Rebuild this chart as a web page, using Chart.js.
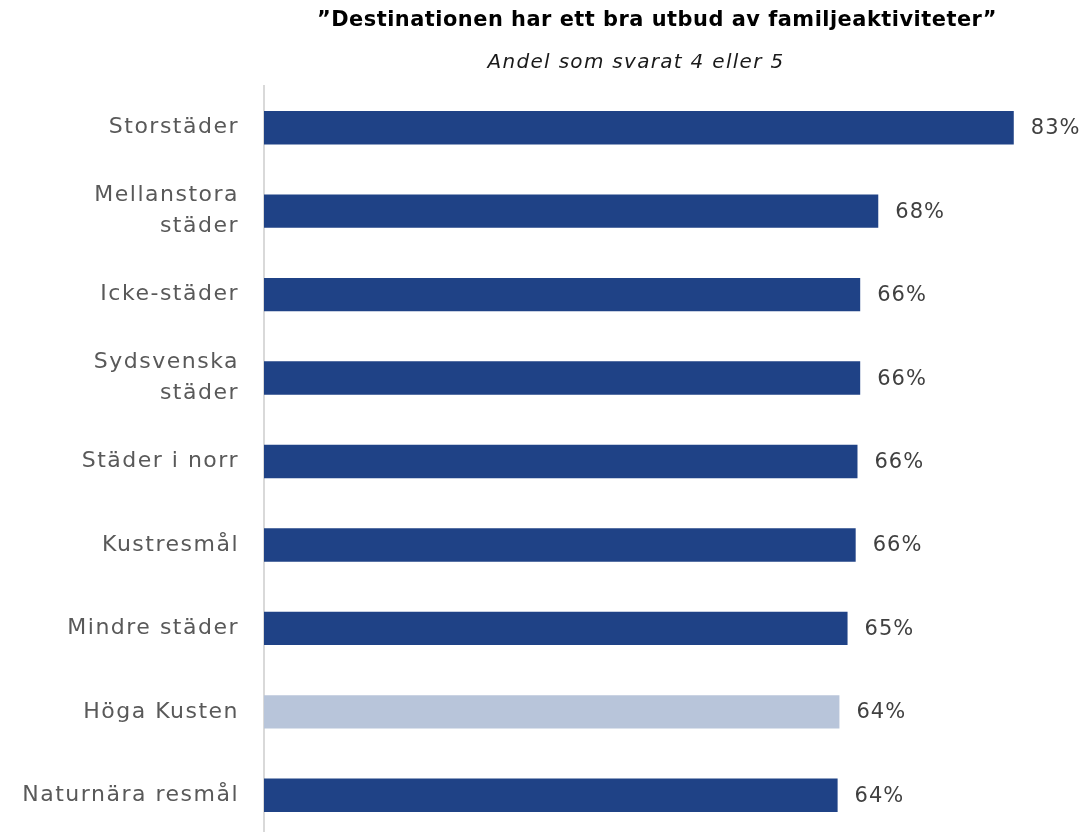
<!DOCTYPE html>
<html>
<head>
<meta charset="utf-8">
<script src="https://cdn.jsdelivr.net/npm/chart.js@4"></script>
<style>
html,body{margin:0;padding:0;background:#fff;overflow:hidden;}
canvas{display:block;}
</style>
</head>
<body>
<canvas id="c" width="1084" height="837"></canvas>
<script>
const categories = [
  "Storstäder",
  ["Mellanstora", "städer"],
  "Icke-städer",
  ["Sydsvenska", "städer"],
  "Städer i norr",
  "Kustresmål",
  "Mindre städer",
  "Höga Kusten",
  "Naturnära resmål"
];
const values = [83.0, 68.0, 66.0, 66.0, 65.7, 65.5, 64.6, 63.7, 63.5];
const highlight = [false, false, false, false, false, false, false, true, false];
const titleText = "\u201DDestinationen har ett bra utbud av familjeaktiviteter\u201D";
const subtitleText = "Andel som svarat 4 eller 5";

const FONT = "'DejaVu Sans', sans-serif";

const spacingPlugin = {
  id: 'spacing',
  beforeUpdate(chart) { chart.ctx.letterSpacing = '1.5px'; },
  beforeDraw(chart) { chart.ctx.letterSpacing = '1.5px'; }
};

const headerPlugin = {
  id: 'header',
  afterDraw(chart) {
    const ctx = chart.ctx;
    ctx.save();
    ctx.fillStyle = '#000000';
    ctx.textAlign = 'center';
    ctx.textBaseline = 'middle';
    ctx.letterSpacing = '0.5px';
    ctx.font = "bold 21px " + FONT;
    ctx.fillText(titleText, 657, 21, 680);
    ctx.fillStyle = '#1a1a1a';
    ctx.letterSpacing = '1.3px';
    ctx.font = "italic 20px " + FONT;
    ctx.fillText(subtitleText, 636, 63, 298);
    ctx.restore();
  }
};

const valueLabelPlugin = {
  id: 'valueLabels',
  afterDatasetsDraw(chart) {
    const ctx = chart.ctx;
    const meta = chart.getDatasetMeta(0);
    ctx.save();
    ctx.fillStyle = '#404040';
    ctx.letterSpacing = '1px';
    ctx.font = "21px " + FONT;
    ctx.textAlign = 'left';
    ctx.textBaseline = 'middle';
    meta.data.forEach((bar, i) => {
      ctx.fillText(Math.round(values[i]) + '%', bar.x + 17, bar.y + 1);
    });
    ctx.restore();
  }
};

new Chart(document.getElementById('c'), {
  type: 'bar',
  data: {
    labels: categories,
    datasets: [{
      data: values,
      backgroundColor: highlight.map(h => h ? '#B8C5DA' : '#1F4286'),
      borderWidth: 0,
      barPercentage: 0.4,
      categoryPercentage: 1.0
    }]
  },
  options: {
    indexAxis: 'y',
    responsive: false,
    animation: false,
    devicePixelRatio: 1,
    layout: { padding: { top: 86, right: 7, bottom: 0, left: 0 } },
    plugins: {
      legend: { display: false },
      title: { display: false },
      tooltip: { enabled: false }
    },
    scales: {
      x: {
        display: false,
        min: 0,
        max: 90
      },
      y: {
        afterFit(scale) {
          scale.width = 264;
          scale.paddingTop = 0;
          scale.paddingBottom = 0;
        },
        grid: { display: false, drawTicks: false },
        border: { display: true, color: '#D9D9D9', width: 2 },
        ticks: {
          padding: 25,
          color: '#595959',
          font: { family: FONT, size: 22, lineHeight: 1.4 }
        }
      }
    }
  },
  plugins: [spacingPlugin, headerPlugin, valueLabelPlugin]
});
</script>
</body>
</html>
